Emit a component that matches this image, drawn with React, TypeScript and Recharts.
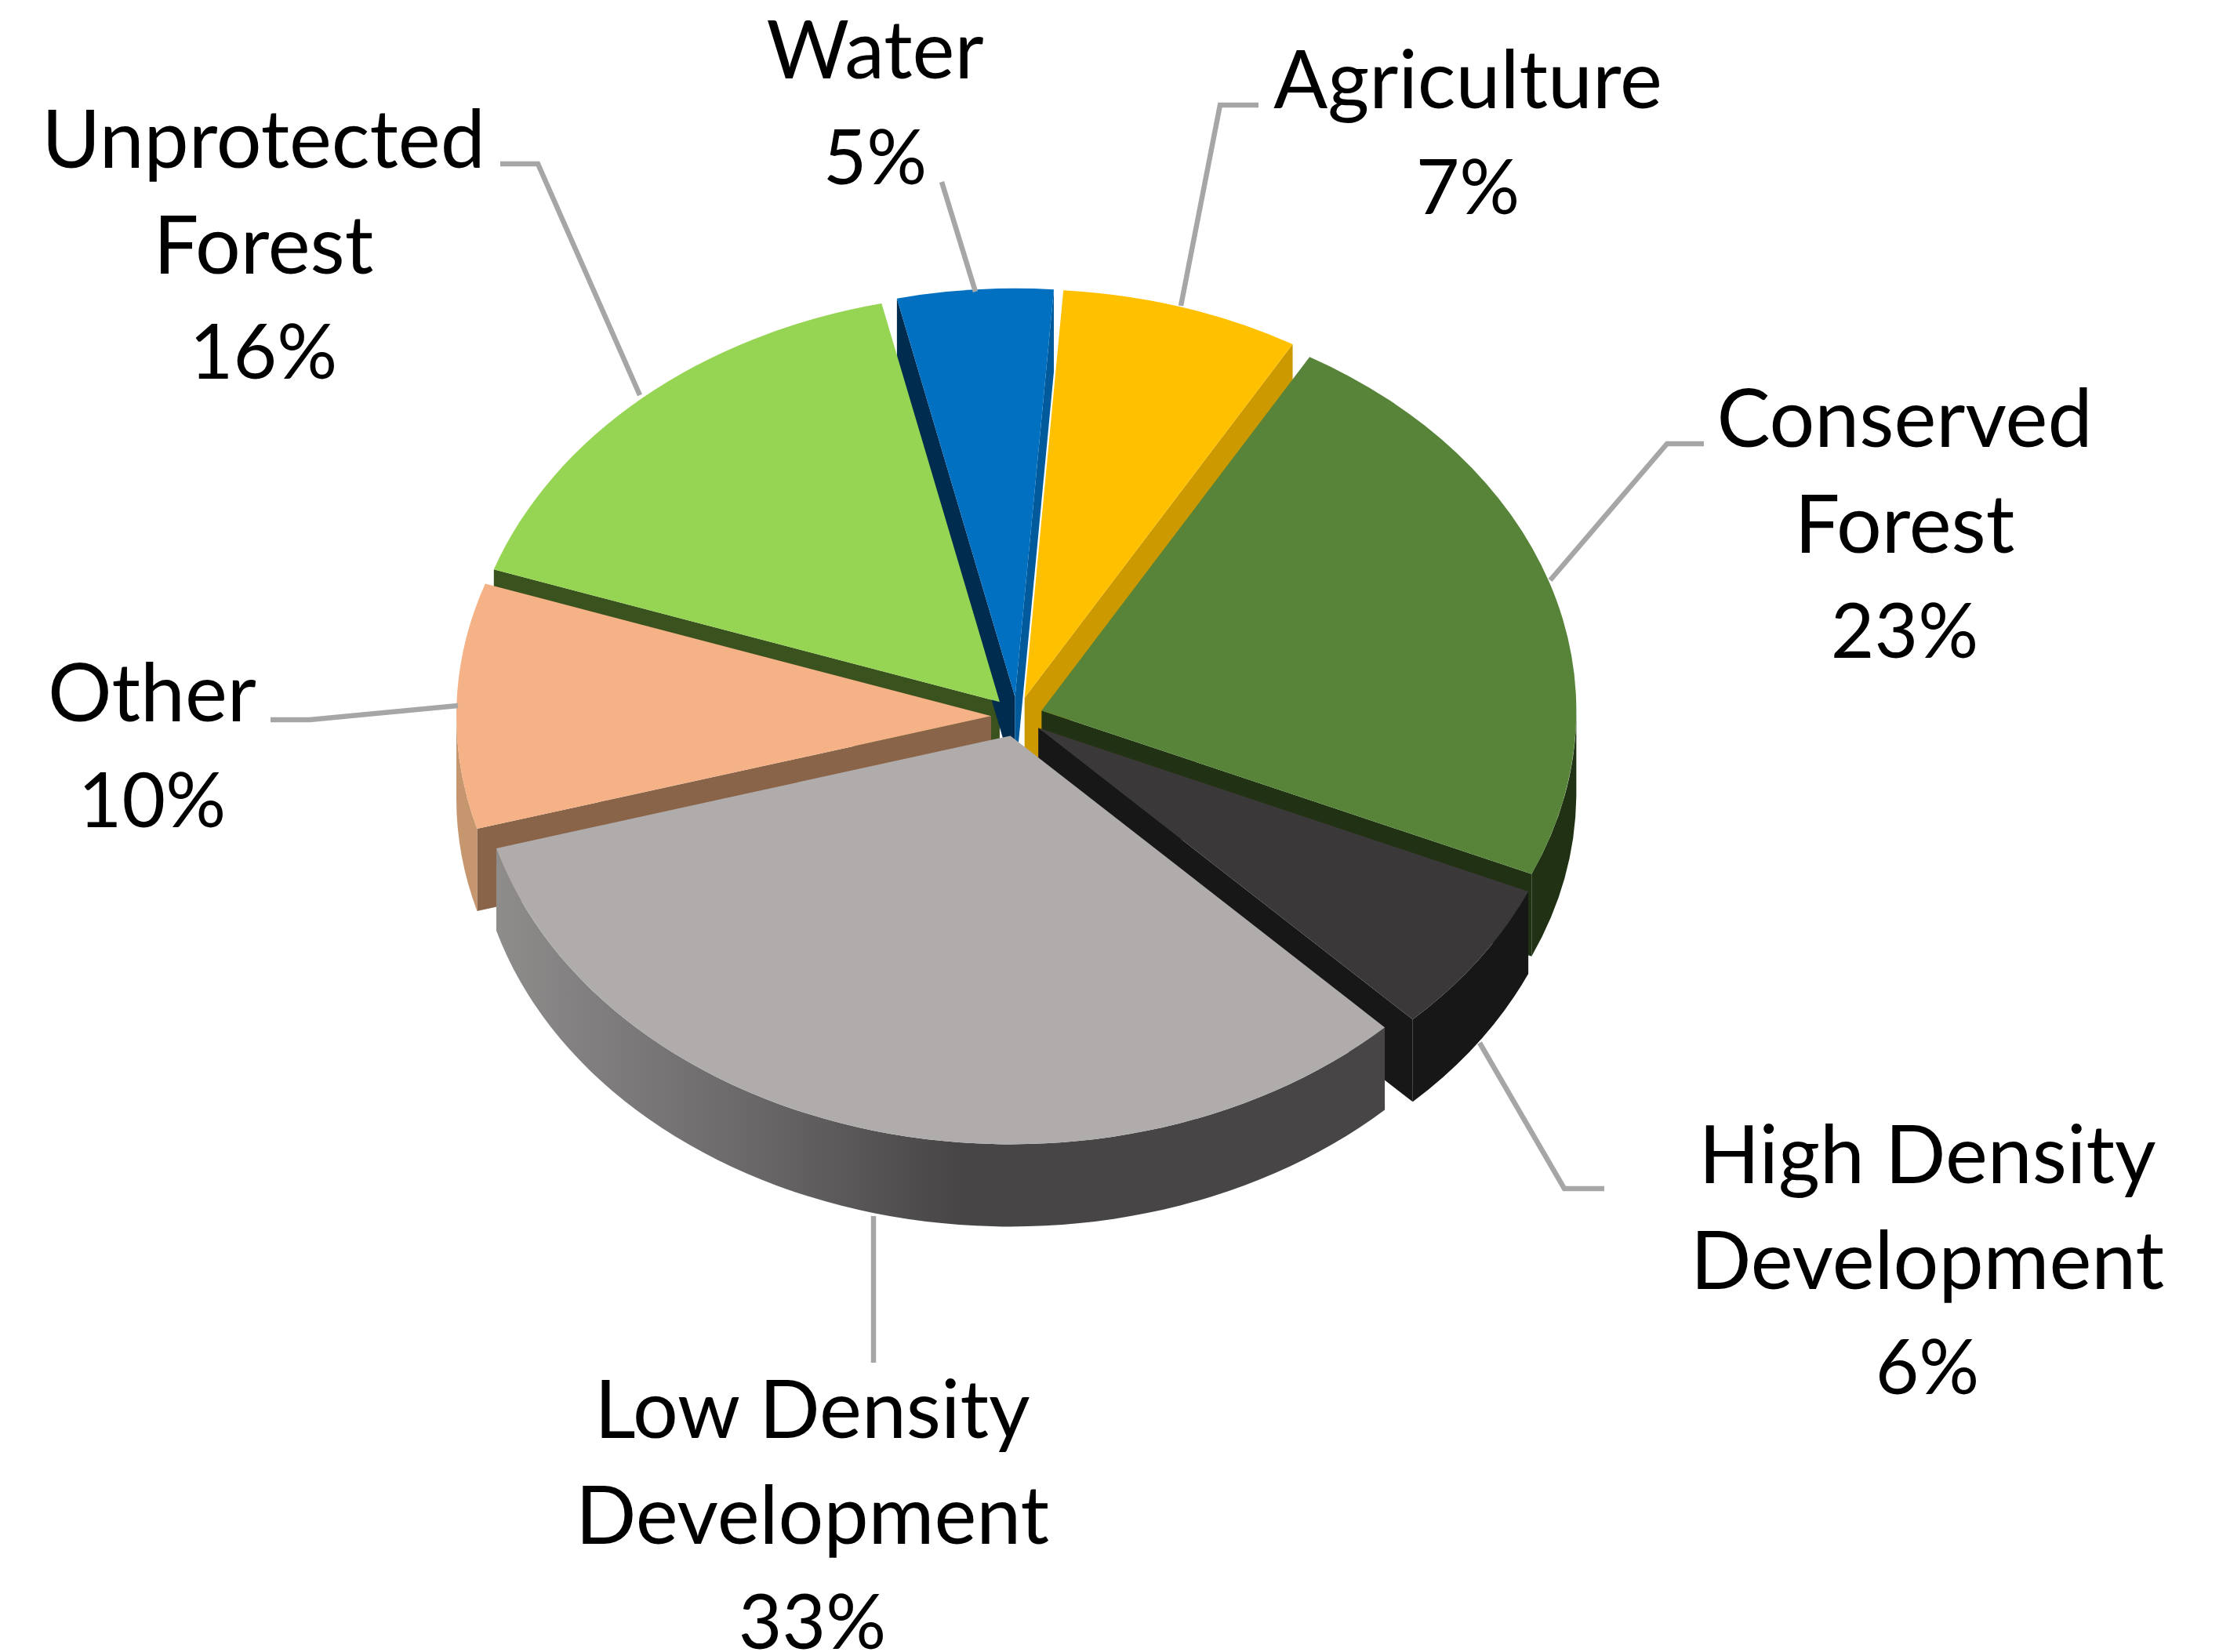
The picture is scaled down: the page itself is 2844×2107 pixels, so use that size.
import { Pie, PieChart } from 'recharts'

const categories = ['Other', 'Unprotected Forest', 'Water', 'Agriculture', 'Conserved Forest', 'High Density Development', 'Low Density Development']
const shares = [9.7, 16.2, 4.7, 7.2, 23.2, 6.1, 32.9]
const labelLines = [['Other'], ['Unprotected', 'Forest'], ['Water'], ['Agriculture'], ['Conserved', 'Forest'], ['High Density', 'Development'], ['Low Density', 'Development']]
const topColors = ['#f5b286', '#95d553', '#0170c1', '#ffc000', '#58843a', '#3b3839', '#b0acab']
const cutColors = ['#8a6449', '#3a521e', '#002c4f', '#cc9a00', '#203213', '#171717', '#474546']
const rimColors = ['#c6966e', '#3a521e', '#002c4f', '#cc9a00', '#203213', '#171717', 'url(#lowRim)']

const data = categories.map((name, i) => ({ name, share: shares[i] }))

// 3D look: squash the pie, pull slices out, extrude downward
const SQUASH = 0.764
const EXPLODE = 33
const DEPTH = 105
const FONT_SIZE = 102
const PERCENT_SIZE = 96
const LINE_GAP = 134.5

// these walls sit in front of the rest, so they get their own later pass
const frontWalls = ['Other', 'Low Density Development']

// first baseline of each label and its leader line
const labelBoxes = [
  { x: 194, y: 920, leader: [[345, 918], [395, 918], [584, 900]] },
  { x: 336, y: 214, leader: [[638, 209], [686, 209], [816, 504]] },
  { x: 1116, y: 100, leader: [[1201, 232], [1244, 372]] },
  { x: 1872, y: 138, leader: [[1605, 134], [1556, 134], [1506, 390]] },
  { x: 2429, y: 570, leader: [[2173, 566], [2126, 566], [1977, 740]] },
  { x: 2458, y: 1509, leader: [[1887, 1330], [1995, 1516], [2046, 1516]] },
  { x: 1036, y: 1834, leader: [[1114, 1551], [1114, 1738]] },
]

const rad = (d: number) => (d * Math.PI) / 180

// shared geometry of one pulled-out, squashed slice
function sliceGeometry(props: any) {
  const { cx, cy, outerRadius: r, startAngle, endAngle, name } = props
  const mid = rad((startAngle + endAngle) / 2)
  const ax = cx + EXPLODE * Math.cos(mid)
  const ay = cy - EXPLODE * SQUASH * Math.sin(mid)
  const ry = r * SQUASH
  const at = (a: number) => [ax + r * Math.cos(rad(a)), ay - ry * Math.sin(rad(a))]
  return { i: categories.indexOf(name), name, r, ry, ax, ay, at, startAngle, endAngle }
}

function SliceWalls(props: any) {
  const { i, name, r, ry, ax, ay, at, startAngle, endAngle } = sliceGeometry(props)
  const [sx, sy] = at(startAngle)
  const [ex, ey] = at(endAngle)

  // clockwise from 12 o'clock, the front rim lives between 90 and 270
  const t0 = 90 - startAngle
  const t1 = 90 - endAngle
  const rims: string[] = []
  for (const n of [-360, 0, 360]) {
    const lo = Math.max(t0, 90 + n)
    const hi = Math.min(t1, 270 + n)
    if (hi > lo) {
      const [x0, y0] = at(90 - lo)
      const [x1, y1] = at(90 - hi)
      rims.push(`M${x0},${y0} A${r},${ry} 0 0 1 ${x1},${y1} L${x1},${y1 + DEPTH} A${r},${ry} 0 0 0 ${x0},${y0 + DEPTH} Z`)
    }
  }
  const quad = (x: number, y: number) => `M${ax},${ay} L${x},${y} L${x},${y + DEPTH} L${ax},${ay + DEPTH} Z`

  return (
    <g>
      {name === 'Low Density Development' && (
        <defs>
          <linearGradient id="lowRim" x1="0" x2="1" y1="0" y2="0">
            <stop offset="0" stopColor="#8f8c8c" />
            <stop offset="0.3" stopColor="#686667" />
            <stop offset="0.52" stopColor="#474546" />
            <stop offset="1" stopColor="#474546" />
          </linearGradient>
        </defs>
      )}
      {sx < ax && <path d={quad(sx, sy)} fill={cutColors[i]} />}
      {ex > ax && <path d={quad(ex, ey)} fill={name === 'Water' ? '#005a9b' : cutColors[i]} />}
      {rims.map((d) => <path key={d} d={d} fill={rimColors[i]} />)}
    </g>
  )
}

const BackWalls = (props: any) => (frontWalls.includes(props.name) ? <g /> : <SliceWalls {...props} />)
const FrontWalls = (props: any) => (frontWalls.includes(props.name) ? <SliceWalls {...props} /> : <g />)

function SliceTop(props: any) {
  const { i, r, ry, ax, ay, at, startAngle, endAngle } = sliceGeometry(props)
  const [sx, sy] = at(startAngle)
  const [ex, ey] = at(endAngle)
  const large = Math.abs(startAngle - endAngle) > 180 ? 1 : 0
  return <path d={`M${ax},${ay} L${sx},${sy} A${r},${ry} 0 ${large} 1 ${ex},${ey} Z`} fill={topColors[i]} />
}

function SliceLabel(props: any) {
  const { index, percent } = props
  const box = labelBoxes[index]
  const names = labelLines[index]
  return (
    <g>
      <polyline points={box.leader.map((p) => p.join(',')).join(' ')} fill="none" stroke="#a6a6a6" strokeWidth={6.5} />
      <text x={box.x} y={box.y} textAnchor="middle" fontFamily="Lato" fontSize={FONT_SIZE} fill="#000000">
        {names.map((line, n) => (
          <tspan key={n} x={box.x} y={box.y + n * LINE_GAP}>{line}</tspan>
        ))}
        <tspan x={box.x} y={box.y + names.length * LINE_GAP} fontSize={PERCENT_SIZE}>
          {`${Math.round(percent * 100)}%`}
        </tspan>
      </text>
    </g>
  )
}

export default function App() {
  const pieProps = {
    data,
    dataKey: 'share',
    nameKey: 'name',
    cx: 1297,
    cy: 914,
    outerRadius: 682,
    startAngle: -164,
    endAngle: -524,
    stroke: 'none',
    isAnimationActive: false,
  }
  return (
    <div style={{ position: 'absolute', left: 0, top: 0, width: 2844, height: 2107, background: '#fff' }}>
      <PieChart width={2844} height={2107} margin={{ top: 0, right: 0, bottom: 0, left: 0 }}>
        <Pie {...pieProps} shape={BackWalls} />
        <Pie {...pieProps} shape={FrontWalls} />
        <Pie {...pieProps} shape={SliceTop} label={SliceLabel} labelLine={false} />
      </PieChart>
    </div>
  )
}
